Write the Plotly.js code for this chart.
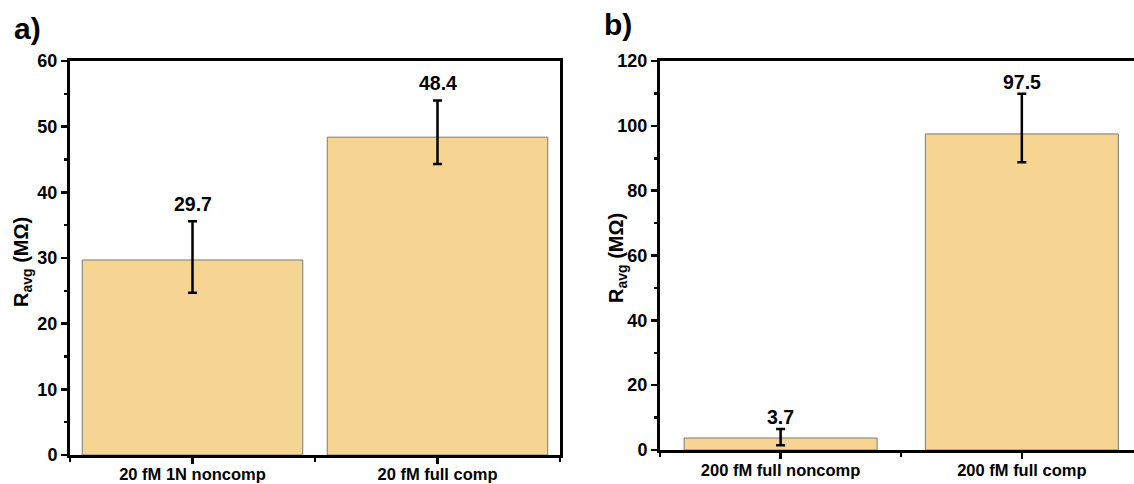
<!DOCTYPE html>
<html>
<head>
<meta charset="utf-8">
<script src="https://cdn.plot.ly/plotly-3.0.1.min.js"></script>
<style>html,body{margin:0;padding:0;background:#fff;}#chart{width:1134px;height:484px;}</style>
</head>
<body>
<div id="chart"></div>
<script>
// Panel a data
const catsA = ["20 fM 1N noncomp", "20 fM full comp"];
const valsA = [29.7, 48.4];
const errPlusA = [5.9, 5.6];
const errMinusA = [5.0, 4.1];
const yTicksA = [0, 10, 20, 30, 40, 50, 60];

// Panel b data
const catsB = ["200 fM full noncomp", "200 fM full comp"];
const valsB = [3.7, 97.5];
const errPlusB = [2.8, 12.4];
const errMinusB = [2.2, 8.7];
const yTicksB = [0, 20, 40, 60, 80, 100, 120];

const W = 1134, H = 484;
const FONT = "Liberation Sans, Arial, sans-serif";
const barColor = "#F6D593";
const idxA = catsA.map((c, i) => i);
const idxB = catsB.map((c, i) => i);

function px(x) { return x / W; }
function py(y) { return (H - y) / H; }

const traces = [
  {
    type: "bar", x: idxA, y: valsA, xaxis: "x", yaxis: "y", width: 0.9,
    marker: {color: barColor, line: {color: "#7a7a7a", width: 1}},
    error_y: {type: "data", symmetric: false, array: errPlusA, arrayminus: errMinusA,
              color: "#000", thickness: 2.5, width: 4.5},
    hoverinfo: "none"
  },
  {
    type: "bar", x: idxB, y: valsB, xaxis: "x2", yaxis: "y2", width: 0.8,
    marker: {color: barColor, line: {color: "#7a7a7a", width: 1}},
    error_y: {type: "data", symmetric: false, array: errPlusB, arrayminus: errMinusB,
              color: "#000", thickness: 2.5, width: 4.5},
    hoverinfo: "none"
  }
];

const tickFont = {family: FONT, size: 18, color: "#000"};
const catFont = {family: FONT, size: 16.5, color: "#000"};
const axisCommon = {
  showgrid: false, zeroline: false, showline: true, linecolor: "#000", linewidth: 3,
  ticks: "outside", ticklen: 6, tickwidth: 2.5, tickcolor: "#000", tickfont: tickFont,
  fixedrange: true
};
const minorCommon = {ticks: "outside", ticklen: 3.5, tickwidth: 2.5, tickcolor: "#000"};

const annotations = [];
valsA.forEach((v, i) => annotations.push({
  xref: "x", yref: "y", x: idxA[i], y: v + errPlusA[i], text: "<b>" + v.toFixed(1) + "</b>",
  showarrow: false, yanchor: "bottom", yshift: 4, font: {family: FONT, size: 19.5, color: "#000"}
}));
valsB.forEach((v, i) => annotations.push({
  xref: "x2", yref: "y2", x: idxB[i], y: v + errPlusB[i], text: "<b>" + v.toFixed(1) + "</b>",
  showarrow: false, yanchor: "bottom", yshift: -1, font: {family: FONT, size: 19.5, color: "#000"}
}));
annotations.push({xref: "paper", yref: "paper", x: px(12), y: py(29), xanchor: "left", yanchor: "middle",
  text: "<b>a)</b>", showarrow: false, font: {family: FONT, size: 30, color: "#000"}});
annotations.push({xref: "paper", yref: "paper", x: px(602), y: py(25), xanchor: "left", yanchor: "middle",
  text: "<b>b)</b>", showarrow: false, font: {family: FONT, size: 30, color: "#000"}});
annotations.push({xref: "paper", yref: "paper", x: px(22), y: py(262), xanchor: "center", yanchor: "middle",
  textangle: -90, text: "<b>R<sub>avg</sub> (MΩ)</b>", showarrow: false, font: {family: FONT, size: 20, color: "#000"}});
annotations.push({xref: "paper", yref: "paper", x: px(617), y: py(258), xanchor: "center", yanchor: "middle",
  textangle: -90, text: "<b>R<sub>avg</sub> (MΩ)</b>", showarrow: false, font: {family: FONT, size: 20, color: "#000"}});

const layout = {
  width: W, height: H, margin: {l: 0, r: 0, t: 0, b: 0},
  paper_bgcolor: "#fff", plot_bgcolor: "#fff", showlegend: false,
  font: {family: FONT, color: "#000"},
  xaxis: Object.assign({}, axisCommon, {
    domain: [px(70), px(560)], range: [-0.5, 1.5], anchor: "y", mirror: true, tickfont: catFont,
    ticklabelstandoff: -4,
    tickvals: idxA, ticktext: catsA.map(c => "<b>" + c + "</b>"),
    minor: Object.assign({}, minorCommon, {tick0: 0.5, dtick: 1})
  }),
  yaxis: Object.assign({}, axisCommon, {
    domain: [py(455), py(61)], range: [0, 60], anchor: "x", mirror: true,
    tickvals: yTicksA, ticktext: yTicksA.map(t => "<b>" + t + "</b>"),
    minor: Object.assign({}, minorCommon, {tick0: 5, dtick: 10})
  }),
  xaxis2: Object.assign({}, axisCommon, {
    domain: [px(660), 1], range: [-0.5, 1.465], anchor: "y2", mirror: true, tickfont: catFont,
    ticklabelstandoff: -3,
    tickvals: idxB, ticktext: catsB.map(c => "<b>" + c + "</b>"),
    minor: Object.assign({}, minorCommon, {tick0: 0.5, dtick: 1})
  }),
  yaxis2: Object.assign({}, axisCommon, {
    domain: [py(450), py(61)], range: [0, 120], anchor: "x2", mirror: false,
    tickvals: yTicksB, ticktext: yTicksB.map(t => "<b>" + t + "</b>"),
    minor: Object.assign({}, minorCommon, {tick0: 10, dtick: 20})
  }),
  annotations: annotations
};

Plotly.newPlot("chart", traces, layout, {displayModeBar: false, staticPlot: true});
</script>
</body>
</html>
